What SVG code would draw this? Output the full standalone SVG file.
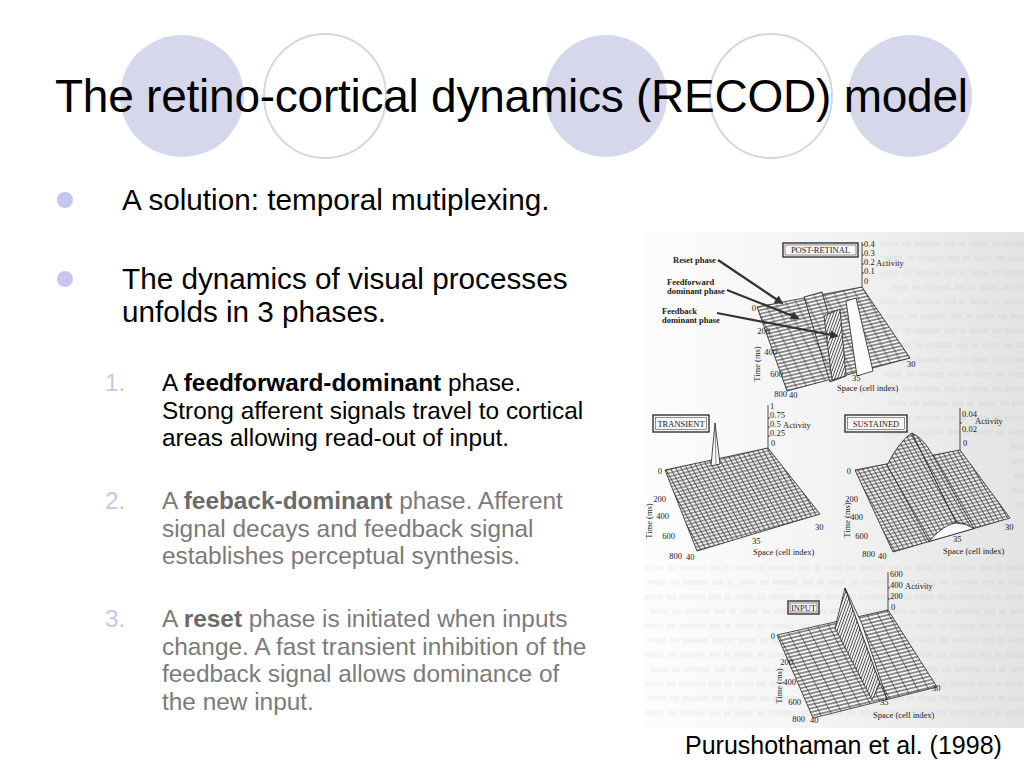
<svg xmlns="http://www.w3.org/2000/svg" width="1024" height="768" viewBox="0 0 1024 768">
<defs>
<style>
.t{font-family:"Liberation Sans",Arial,Helvetica,sans-serif}
.title{font-size:46px;fill:#000}
.l1{font-size:29.7px;fill:#000}
.l2{font-size:24.4px}
.num{fill:#c6c6e8}
.gr{fill:#7b7b7b}
.s{font-family:"Liberation Serif","Times New Roman",serif;fill:#222}
.ax{font-size:8.5px}
.lb{font-size:8.5px;font-weight:bold}
.bx{font-size:8.5px}
.edge{stroke:#222;stroke-width:0.8}
.axis{stroke:#222;stroke-width:0.8;fill:none}
.scanline{stroke:#8a8a8a;stroke-width:5;opacity:0.055;stroke-dasharray:18 4 9 3 26 4 12 3 7 4}
</style>
<linearGradient id="scan" x1="0" y1="0" x2="1" y2="0">
<stop offset="0" stop-color="#fdfdfd"/>
<stop offset="0.45" stop-color="#f4f4f4"/>
<stop offset="1" stop-color="#e3e3e3"/>
</linearGradient>
<pattern id="pT" patternUnits="userSpaceOnUse" width="1" height="1" patternTransform="matrix(4.708,-1.229,1.75,3.0625,660,473.75)">
<rect width="1" height="1" fill="#f0f0f0"/>
<path d="M0 .5H1" stroke="#2a2a2a" stroke-width=".22"/>
<path d="M.5 0V1" stroke="#2a2a2a" stroke-width=".16"/>
</pattern>
<pattern id="pS" patternUnits="userSpaceOnUse" width="1" height="1" patternTransform="matrix(4.625,-1.125,1.833,3.125,852,473.5)">
<rect width="1" height="1" fill="#f0f0f0"/>
<path d="M0 .5H1" stroke="#2a2a2a" stroke-width=".22"/>
<path d="M.5 0V1" stroke="#2a2a2a" stroke-width=".16"/>
</pattern>
<pattern id="pP" patternUnits="userSpaceOnUse" width="1" height="1" patternTransform="matrix(9.5,-2.208,1.625,3.229,752.5,310.25)">
<rect width="1" height="1" fill="#f6f6f6"/>
<path d="M0 .5H1" stroke="#222" stroke-width=".26"/>
<path d="M.5 0V1" stroke="#222" stroke-width=".08"/>
</pattern>
<pattern id="pI" patternUnits="userSpaceOnUse" width="1" height="1" patternTransform="matrix(9.792,-2.333,1.771,3.333,773.75,636.5)">
<rect width="1" height="1" fill="#f6f6f6"/>
<path d="M0 .5H1" stroke="#222" stroke-width=".26"/>
<path d="M.5 0V1" stroke="#222" stroke-width=".08"/>
</pattern>
<pattern id="pH" patternUnits="userSpaceOnUse" width="2.6" height="2.6" patternTransform="rotate(20)">
<rect width="2.6" height="2.6" fill="#f4f4f4"/>
<path d="M1.3 0V2.6" stroke="#333" stroke-width=".8"/>
</pattern>
<marker id="ah" viewBox="0 0 10 10" refX="8" refY="5" markerWidth="4" markerHeight="4" orient="auto">
<path d="M0 0L10 5L0 10z" fill="#333"/>
</marker>
</defs>

<rect width="1024" height="768" fill="#ffffff"/>

<g id="header-circles">
<ellipse cx="182" cy="96" rx="62" ry="61" fill="#d7d7ec"/>
<ellipse cx="325" cy="96" rx="61" ry="62" fill="#ffffff" stroke="#d4d4e8" stroke-width="2"/>
<ellipse cx="606" cy="96" rx="61" ry="61" fill="#d7d7ec"/>
<ellipse cx="771" cy="96" rx="61" ry="62" fill="#ffffff" stroke="#d4d4e8" stroke-width="2"/>
<ellipse cx="910" cy="96" rx="62" ry="61" fill="#d7d7ec"/>
</g>

<g id="title">
<text class="t title" x="55" y="112" textLength="913">The retino-cortical dynamics (RECOD) model</text>
</g>

<g id="bullets">
<circle cx="65" cy="200" r="8" fill="#c6c6f0"/>
<text class="t l1" x="122" y="210">A solution: temporal mutiplexing.</text>
<circle cx="65" cy="279" r="8" fill="#c6c6f0"/>
<text class="t l1" x="122" y="289">The dynamics of visual processes</text>
<text class="t l1" x="122" y="322">unfolds in 3 phases.</text>
</g>

<g id="item-1">
<text class="t l2 num" x="105" y="391">1.</text>
<text class="t l2" x="162" y="391" fill="#000">A <tspan font-weight="bold">feedforward-dominant</tspan> phase.</text>
<text class="t l2" x="162" y="418.5" fill="#000">Strong afferent signals travel to cortical</text>
<text class="t l2" x="162" y="446" fill="#000">areas allowing read-out of input.</text>
</g>

<g id="item-2">
<text class="t l2 num" x="105" y="509">2.</text>
<text class="t l2 gr" x="162" y="509">A <tspan font-weight="bold" fill="#6a6a6a">feeback-dominant</tspan> phase. Afferent</text>
<text class="t l2 gr" x="162" y="536.5">signal decays and feedback signal</text>
<text class="t l2 gr" x="162" y="564">establishes perceptual synthesis.</text>
</g>

<g id="item-3">
<text class="t l2 num" x="105" y="627">3.</text>
<text class="t l2 gr" x="162" y="627">A <tspan font-weight="bold" fill="#6a6a6a">reset</tspan> phase is initiated when inputs</text>
<text class="t l2 gr" x="162" y="654.5">change. A fast transient inhibition of the</text>
<text class="t l2 gr" x="162" y="682">feedback signal allows dominance of</text>
<text class="t l2 gr" x="162" y="709.5">the new input.</text>
</g>

<g id="figure-background">
<rect x="643" y="232" width="381" height="496" fill="url(#scan)"/>
<path class="scanline" d="M880 244H1024M884 258.5H1024M880 273H1024M890 287.5H1024M880 302H1024M886 316.5H1024M880 331H1024M892 345.5H1024M880 360H1024M884 374.5H1024M880 389H1024M888 403.5H1024M880 418H1024M884 432.5H1024M1010 447H1024M1012 461.5H1024M1014 476H1024M1012 490.5H1024M1016 505H1024"/>
<path class="scanline" d="M645 568H1024M648 582.5H1024M645 597H1024M650 611.5H1024M645 626H1024M648 640.5H1024M645 655H1024M650 669.5H1024M645 684H1024M648 698.5H1024M645 713H1024"/>
</g>

<g id="plot-post-retinal">
<polygon class="edge" points="757,307 862,287 910,358 787,391" fill="url(#pP)"/>
<polygon class="edge" points="804,297 822,292 846,376 830,382" fill="url(#pP)"/>
<polygon class="edge" points="846,301 856,298 873,371 857,376" fill="#fbfbfb"/>
<polygon class="edge" points="824,316 840,309 846,376 832,380" fill="url(#pH)"/>
<path class="axis" d="M862 242V287M862 245h2M862 255h2M862 264h2M862 273h2"/>
<text class="s ax" x="864" y="247">0.4</text>
<text class="s ax" x="864" y="256">0.3</text>
<text class="s ax" x="864" y="265">0.2</text>
<text class="s ax" x="864" y="274">0.1</text>
<text class="s ax" x="864" y="284">0</text>
<text class="s ax" x="876" y="266">Activity</text>
<rect x="783" y="243" width="75" height="14" fill="#f8f8f8" stroke="#222" stroke-width="1.3"/>
<rect x="785" y="245" width="71" height="10" fill="none" stroke="#222" stroke-width="0.5"/>
<text class="s bx" x="820.5" y="253.3" text-anchor="middle">POST-RETINAL</text>
<text class="s lb" x="673" y="263">Reset phase</text>
<text class="s lb" x="667" y="285">Feedforward</text>
<text class="s lb" x="667" y="294">dominant phase</text>
<text class="s lb" x="662" y="314">Feedback</text>
<text class="s lb" x="662" y="323">dominant phase</text>
<text class="s ax" x="756" y="311" text-anchor="end">0</text>
<text class="s ax" x="770" y="334" text-anchor="end">200</text>
<text class="s ax" x="777" y="355" text-anchor="end">400</text>
<text class="s ax" x="783" y="377" text-anchor="end">600</text>
<text class="s ax" x="787" y="397" text-anchor="end">800</text>
<text class="s ax" x="789" y="398">40</text>
<text class="s ax" x="852" y="381">35</text>
<text class="s ax" x="907" y="367">30</text>
<text class="s ax" x="837" y="391">Space (cell index)</text>
<text class="s ax" x="760" y="364" text-anchor="middle" transform="rotate(-90 760 364)">Time (ms)</text>
</g>

<g id="connectors" stroke="#333" stroke-width="2.2" fill="none" marker-end="url(#ah)">
<line x1="718" y1="260" x2="782" y2="303"/>
<line x1="727" y1="290" x2="798" y2="318"/>
<line x1="717" y1="313" x2="837" y2="336"/>
</g>

<g id="plot-transient">
<polygon class="edge" points="665,470 768,448 820,514 697,551" fill="url(#pT)"/>
<polygon class="edge" points="711,466 715,423 720,464" fill="#fafafa"/>
<line x1="715" y1="423" x2="716" y2="465" stroke="#444" stroke-width="0.6"/>
<path class="axis" d="M768 405V448M768 418h2M768 427h2M768 436h2"/>
<text class="s ax" x="770" y="409">1</text>
<text class="s ax" x="770" y="418">0.75</text>
<text class="s ax" x="770" y="427">0.5</text>
<text class="s ax" x="783" y="428">Activity</text>
<text class="s ax" x="770" y="436">0.25</text>
<text class="s ax" x="771" y="446">0</text>
<rect x="653" y="415" width="56" height="17" fill="#f8f8f8" stroke="#222" stroke-width="1.3"/>
<rect x="655.5" y="417.5" width="51" height="12" fill="none" stroke="#222" stroke-width="0.5"/>
<text class="s bx" x="681" y="426.8" text-anchor="middle">TRANSIENT</text>
<text class="s ax" x="662" y="474" text-anchor="end">0</text>
<text class="s ax" x="666" y="502" text-anchor="end">200</text>
<text class="s ax" x="669" y="519" text-anchor="end">400</text>
<text class="s ax" x="675" y="539" text-anchor="end">600</text>
<text class="s ax" x="682" y="559" text-anchor="end">800</text>
<text class="s ax" x="686" y="560">40</text>
<text class="s ax" x="752" y="544">35</text>
<text class="s ax" x="815" y="530">30</text>
<text class="s ax" x="753" y="555">Space (cell index)</text>
<text class="s ax" x="652" y="521" text-anchor="middle" transform="rotate(-90 652 521)">Time (ms)</text>
</g>

<g id="plot-sustained">
<polygon class="edge" points="855,470 960,450 1010,518 893,552" fill="url(#pS)"/>
<path class="edge" d="M887 465Q900 440 912 433L956 522Q944 527 929 541.5Z" fill="url(#pS)"/>
<path class="edge" d="M912 433Q923 438 932 454L974 528.5Q966 523 956 522Z" fill="url(#pS)"/>
<path class="edge" d="M929 541.5Q944 524 956 523Q966 523 974 528.5Z" fill="#fafafa"/>
<path class="axis" d="M960 408V450M960 423h2"/>
<text class="s ax" x="962" y="417">0.04</text>
<text class="s ax" x="975" y="424">Activity</text>
<text class="s ax" x="962" y="432">0.02</text>
<text class="s ax" x="963" y="446">0</text>
<rect x="845" y="415" width="62" height="17" fill="#f8f8f8" stroke="#222" stroke-width="1.3"/>
<rect x="847.5" y="417.5" width="57" height="12" fill="none" stroke="#222" stroke-width="0.5"/>
<text class="s bx" x="876" y="426.8" text-anchor="middle">SUSTAINED</text>
<text class="s ax" x="851" y="474" text-anchor="end">0</text>
<text class="s ax" x="858" y="502" text-anchor="end">200</text>
<text class="s ax" x="863" y="520" text-anchor="end">400</text>
<text class="s ax" x="868" y="539" text-anchor="end">600</text>
<text class="s ax" x="875" y="557" text-anchor="end">800</text>
<text class="s ax" x="878" y="559">40</text>
<text class="s ax" x="953" y="542">35</text>
<text class="s ax" x="1005" y="530">30</text>
<text class="s ax" x="943" y="554">Space (cell index)</text>
<text class="s ax" x="850" y="520" text-anchor="middle" transform="rotate(-90 850 520)">Time (ms)</text>
</g>

<g id="plot-input">
<polygon class="edge" points="777,635 888,610 937,687 813,718" fill="url(#pI)"/>
<polygon class="edge" points="845,588 880,683 872,700 835,628" fill="url(#pH)"/>
<polygon class="edge" points="845,588 862,624 887,699 880,683" fill="#fafafa"/>
<path class="axis" d="M888 572V610M888 588h2M888 599h2"/>
<text class="s ax" x="890" y="577">600</text>
<text class="s ax" x="890" y="588">400</text>
<text class="s ax" x="905" y="589">Activity</text>
<text class="s ax" x="890" y="599">200</text>
<text class="s ax" x="891" y="610">0</text>
<rect x="788" y="601" width="31" height="13" fill="#f8f8f8" stroke="#222" stroke-width="1.3"/>
<rect x="790" y="603" width="27" height="9" fill="none" stroke="#222" stroke-width="0.5"/>
<text class="s bx" x="803.5" y="610.5" text-anchor="middle">INPUT</text>
<text class="s ax" x="775" y="639" text-anchor="end">0</text>
<text class="s ax" x="793" y="665" text-anchor="end">200</text>
<text class="s ax" x="796" y="685" text-anchor="end">400</text>
<text class="s ax" x="801" y="705" text-anchor="end">600</text>
<text class="s ax" x="805" y="722" text-anchor="end">800</text>
<text class="s ax" x="810" y="723">40</text>
<text class="s ax" x="880" y="705">35</text>
<text class="s ax" x="932" y="691">30</text>
<text class="s ax" x="873" y="718">Space (cell index)</text>
<text class="s ax" x="782" y="686" text-anchor="middle" transform="rotate(-90 782 686)">Time (ms)</text>
</g>

<g id="citation">
<text class="t" x="685" y="754" font-size="25" fill="#000">Purushothaman et al. (1998)</text>
</g>
</svg>
